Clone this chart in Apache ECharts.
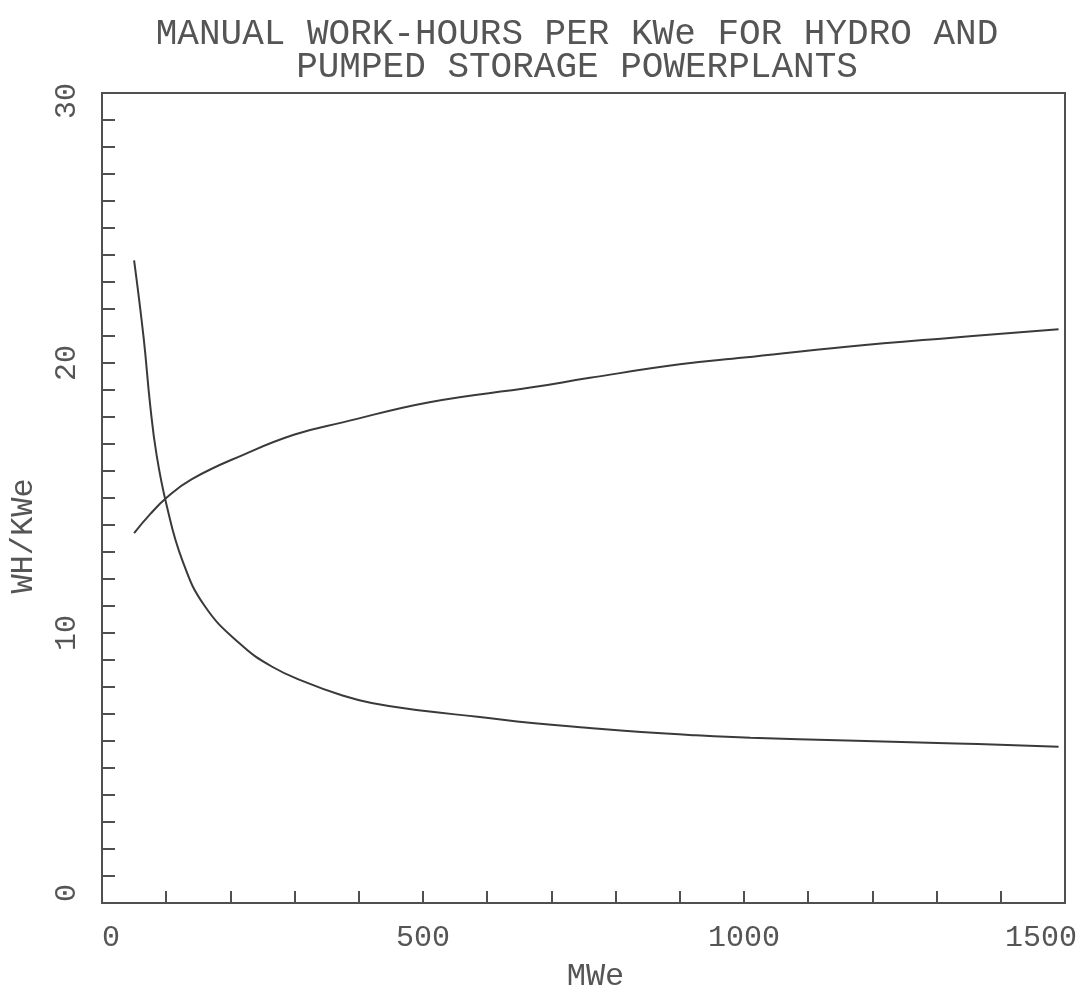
<!DOCTYPE html>
<html>
<head>
<meta charset="utf-8">
<script src="https://cdn.jsdelivr.net/npm/echarts@6/dist/echarts.min.js"></script>
<style>
html,body{margin:0;padding:0;background:#fff;}
#chart{width:1090px;height:998px;}
</style>
</head>
<body>
<div id="chart"></div>
<script>
const titleLines = ['MANUAL WORK-HOURS PER KWe FOR HYDRO AND', 'PUMPED STORAGE POWERPLANTS'];
const xName = 'MWe';
const yName = 'WH/KWe';

// decreasing curve (MWe, WH/KWe)
const curveA_x = [50, 65, 75, 85, 100, 125, 160, 215, 265, 320, 370, 420, 500, 585, 670, 755, 840, 925, 1010, 1160, 1330, 1490];
const curveA_y = [23.8, 20.9, 18.45, 16.6, 14.8, 12.7, 11.0, 9.6, 8.75, 8.15, 7.72, 7.41, 7.12, 6.9, 6.67, 6.49, 6.33, 6.21, 6.12, 6.02, 5.91, 5.79];

// increasing curve (MWe, WH/KWe)
const curveB_x = [50, 75, 100, 140, 220, 300, 375, 510, 670, 760, 900, 1000, 1160, 1320, 1490];
const curveB_y = [13.7, 14.4, 15.0, 15.7, 16.6, 17.35, 17.8, 18.55, 19.1, 19.45, 19.95, 20.2, 20.6, 20.93, 21.25];

const xMin = 0, xMax = 1500, xStep = 500;
const yMin = 0, yMax = 30, yStep = 10;

const ink = '#3a3a3a';
const axisInk = '#505050';
const textInk = '#555';
const font = 'Liberation Mono';

const chart = echarts.init(document.getElementById('chart'), null, {renderer: 'canvas'});

function pairs(xs, ys) { return xs.map((x, i) => [x, ys[i]]); }

const option = {
  backgroundColor: '#fff',
  animation: false,
  title: {
    text: titleLines.join('\n'),
    left: 572,
    textAlign: 'center',
    top: 13,
    textStyle: {fontFamily: font, fontSize: 36, fontWeight: 'normal', color: textInk, lineHeight: 33}
  },
  grid: {left: 98, right: 25, top: 93, bottom: 90, show: true, borderColor: axisInk, borderWidth: 2, backgroundColor: 'transparent'},
  xAxis: {
    type: 'value', min: xMin, max: xMax, interval: xStep,
    name: xName, nameLocation: 'middle', nameGap: 58,
    nameTextStyle: {fontFamily: font, fontSize: 32, color: textInk, padding: [0, 0, 0, 24]},
    axisLine: {show: true, lineStyle: {color: axisInk, width: 2}},
    axisTick: {show: true, inside: true, length: 12, lineStyle: {color: axisInk, width: 2}},
    minorTick: {show: true, splitNumber: 5, length: 12, lineStyle: {color: axisInk, width: 2}},
    splitLine: {show: false},
    axisLabel: {
      margin: 20, fontFamily: font, fontSize: 30, color: textInk,
      formatter: function (v) {
        if (v === xMin) return '{l|' + v + '}';
        if (v === xMax) return '{r|' + v + '}';
        return String(v);
      },
      rich: {
        l: {fontFamily: font, fontSize: 30, color: textInk, padding: [0, 0, 0, 18]},
        r: {fontFamily: font, fontSize: 30, color: textInk, padding: [0, 48, 0, 0]}
      }
    }
  },
  yAxis: {
    type: 'value', min: yMin, max: yMax, interval: yStep,
    name: yName, nameLocation: 'middle', nameGap: 62, nameRotate: 90,
    nameTextStyle: {fontFamily: font, fontSize: 32, color: textInk, padding: [0, 76, 0, 0]},
    axisLine: {show: true, lineStyle: {color: axisInk, width: 2}},
    axisTick: {show: true, inside: true, length: 13, lineStyle: {color: axisInk, width: 2}},
    minorTick: {show: true, splitNumber: 10, length: 13, lineStyle: {color: axisInk, width: 2}},
    splitLine: {show: false},
    axisLabel: {
      rotate: 90, margin: 20, fontFamily: font, fontSize: 30, color: textInk,
      formatter: function (v) {
        if (v === yMin) return '{b|' + v + '}';
        if (v === yMax) return '{t|' + v + '}';
        return String(v);
      },
      rich: {
        b: {fontFamily: font, fontSize: 30, color: textInk, padding: [0, 0, 0, 20]},
        t: {fontFamily: font, fontSize: 30, color: textInk, padding: [0, 16, 0, 0]}
      }
    }
  },
  series: [
    {type: 'line', data: pairs(curveA_x, curveA_y), smooth: 0.45, showSymbol: false,
     lineStyle: {color: ink, width: 2}},
    {type: 'line', data: pairs(curveB_x, curveB_y), smooth: 0.45, showSymbol: false,
     lineStyle: {color: ink, width: 2}}
  ]
};
chart.setOption(option);
</script>
</body>
</html>
